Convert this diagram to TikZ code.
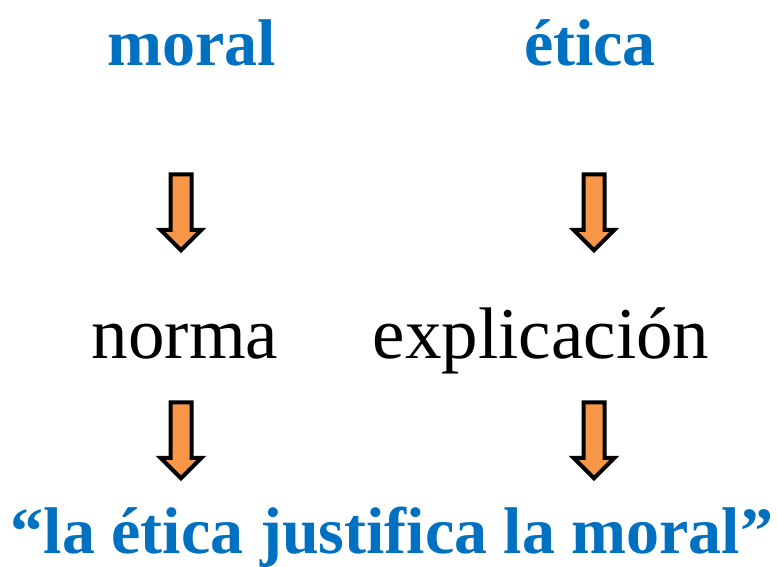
\documentclass[tikz,border=0pt]{standalone}
\usepackage{fontspec}
\setmainfont{Liberation Serif}
\usetikzlibrary{positioning, shapes.arrows}
\definecolor{titleblue}{HTML}{0070C0}
\definecolor{arroworange}{HTML}{F79646}
\tikzstyle{head}=[text=titleblue, font=\fontsize{66}{66}\selectfont\bfseries, anchor=base, inner sep=0pt]
\tikzstyle{word}=[font=\fontsize{73}{73}\selectfont, anchor=base, inner sep=0pt]
\tikzstyle{down}=[single arrow, draw, line width=4pt, fill=arroworange, shape border rotate=270, minimum height=76pt, inner sep=8.5pt, single arrow head extend=10pt, single arrow head indent=0pt]

\begin{document}
\begin{tikzpicture}[x=1pt, y=-1pt]
                    \useasboundingbox (0,0) rectangle (777,566);
                    \node [head] (moral) at (192,65) {moral};
                    \node [head] (etica) at (590,65) {ética};
                    \node [down] (ma) at (181,207) {};
                    \node [down] (ea) at (594,207) {};
                    \node [word] (norma) at (185,358) {norma};
                    \node [word] (expl) at (541,358) {explicación};
                    \node [down] (na) at (181,435) {};
                    \node [down] (xa) at (594,435) {};
                    \node [head] (lema) at (392,553) {“la ética justifica la moral”};
                \end{tikzpicture}
\end{document}
